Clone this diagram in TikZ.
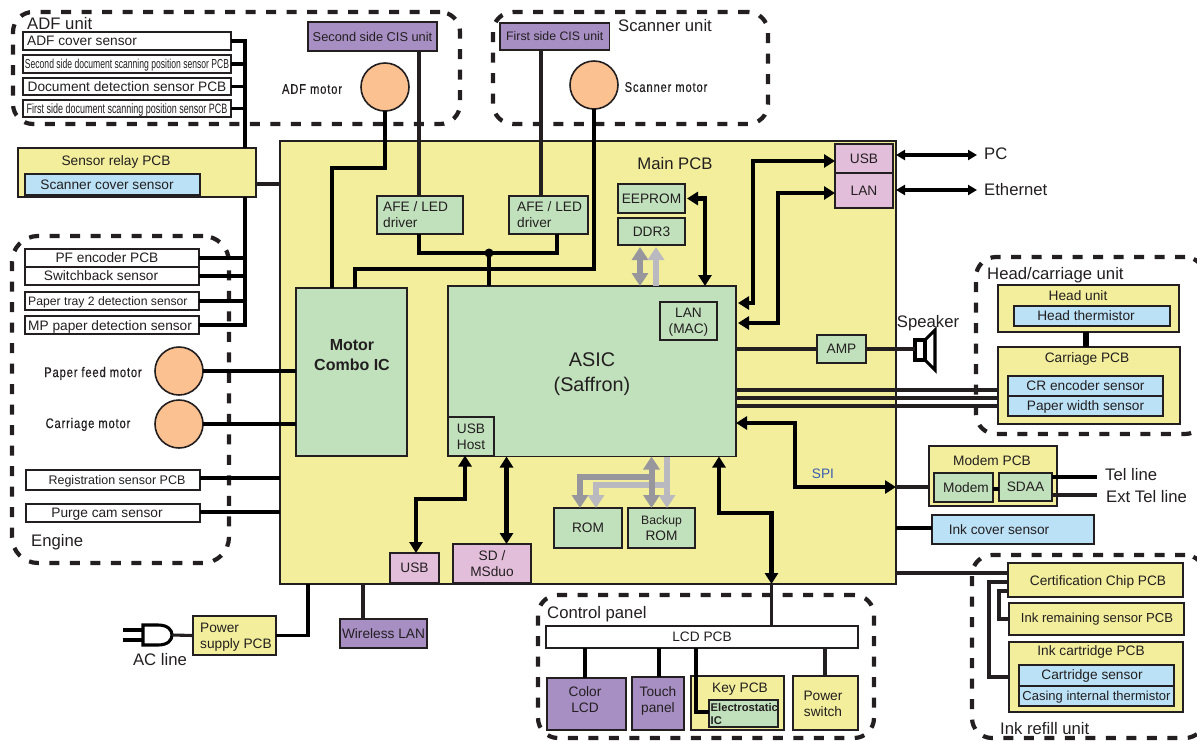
\documentclass[tikz,border=0pt]{standalone}
\usepackage{fontspec}
\setmainfont{Liberation Sans}
\newfontfamily\narrowfont[FakeStretch=0.66]{Liberation Sans}
\newfontfamily\motorfont[FakeStretch=0.8,LetterSpace=6,FakeBold=0.5]{Liberation Sans}
\usetikzlibrary{arrows.meta}
\definecolor{ink}{HTML}{231F20}
\definecolor{pcbyellow}{HTML}{F2EE9B}
\definecolor{icgreen}{HTML}{C1E0BC}
\definecolor{cispurple}{HTML}{A78FC3}
\definecolor{portpink}{HTML}{E3BEDB}
\definecolor{sensorblue}{HTML}{BBE1F6}
\definecolor{motororange}{HTML}{FBC190}
\definecolor{busdark}{HTML}{96969C}
\definecolor{buslight}{HTML}{B9B9BF}
\definecolor{spiblue}{HTML}{3A5DB0}
\tikzset{
  basebox/.style={draw=ink, line width=1.5pt, inner sep=0pt, outer sep=0pt, align=center, text=ink, text depth=0pt},
  wh/.style 2 args={minimum width=#1, minimum height=#2},
  pcb/.style={basebox, fill=pcbyellow},
  ic/.style={basebox, fill=icgreen},
  cis/.style={basebox, fill=cispurple},
  port/.style={basebox, fill=portpink},
  sensor/.style={basebox, fill=sensorblue},
  plainbox/.style={basebox, fill=white},
  motor/.style={circle, draw=ink, line width=1.6pt, fill=motororange, minimum size=48pt, inner sep=0pt, outer sep=0pt},
  unitframe/.style={draw=ink, line width=4.2pt, rounded corners=20pt, dash pattern=on 10pt off 10.5pt, inner sep=0pt, outer sep=0pt},
  txt/.style={inner sep=0pt, text=ink, align=left, text depth=0pt},
  big/.style={txt, font=\fontsize{16.7}{19}\selectfont},
  motortxt/.style={txt, font=\motorfont\fontsize{14}{16}\selectfont},
  heavy/.style={draw=black, line width=3.2pt},
  plainlink/.style={draw=ink, line width=3.1pt},
  bidir/.style={draw=black, line width=4.2pt, <->, >={Triangle[length=11pt,width=13pt]}},
  extlink/.style={draw=black, line width=3.1pt, <->, >={Triangle[length=9pt,width=10pt]}},
  greybus/.style={line width=6pt, >={Triangle[length=13pt,width=16pt]}},
  dot/.style={circle, fill=black, minimum size=9pt, inner sep=0pt, outer sep=0pt}
}
\begin{document}
\begin{tikzpicture}[x=1pt, y=-1pt, font=\fontsize{13.7}{16}\selectfont]
  \useasboundingbox (0,0) rectangle (1197,740);

  % Dashed units
  \node[unitframe, wh={447}{112}] (ADFframe) at (236.5,68) {};
  \node[unitframe, wh={275}{112}] (ScanFrame) at (630.5,68) {};
  \node[unitframe, wh={217}{327}, rounded corners=26pt] (EngineFrame) at (120.5,399.5) {};
  \node[unitframe, wh={336}{143}] (CtrlFrame) at (706,666.5) {};
  \node[unitframe, wh={229}{177}] (HeadFrame) at (1090.5,345.5) {};
  \node[unitframe, wh={233}{183}] (InkFrame) at (1088.5,646.5) {};

  \node[big, anchor=west] (ADFlabel) at (27,23) {ADF unit};
  \node[big] (ScanLabel) at (665,25) {Scanner unit};
  \node[big, anchor=west] (EngineLabel) at (31,540) {Engine};
  \node[big, anchor=west] (CtrlLabel) at (547,612) {Control panel};
  \node[big, anchor=west] (HeadLabel) at (987,273) {Head/carriage unit};
  \node[big, anchor=west] (InkLabel) at (1000,728) {Ink refill unit};

  % Main PCB
  \node[pcb, wh={616}{443}] (MainPCB) at (588,362.5) {};
  \node[big] (MainLabel) at (675,163) {Main PCB};

  % ADF unit
  \node[plainbox, wh={208}{18}] (ADFcover) at (127,41) {};
  \node[txt, anchor=west] (ADFcoverT) at (27,41) {ADF cover sensor};
  \node[plainbox, wh={208}{18}, font=\narrowfont\fontsize{13}{14}\selectfont] (SecondPos) at (127,64) {Second side document scanning position sensor PCB};
  \node[plainbox, wh={208}{17}] (DocDet) at (127,86.5) {Document detection sensor PCB};
  \node[plainbox, wh={208}{17}, font=\narrowfont\fontsize{13.6}{14}\selectfont] (FirstPos) at (127,108.5) {First side document scanning position sensor PCB};
  \node[cis, wh={129}{29}, font=\fontsize{12.8}{15}\selectfont] (SecondCIS) at (372.5,36.5) {Second side CIS unit};
  \node[motor] (ADFmotor) at (385,87) {};
  \node[motortxt] (ADFmotorT) at (312,89) {ADF motor};

  % Scanner unit
  \node[cis, wh={109.5}{27}, font=\fontsize{12.3}{15}\selectfont] (FirstCIS) at (554.75,36.5) {First side CIS unit};
  \node[motor] (ScanMotor) at (594,85) {};
  \node[motortxt] (ScanMotorT) at (666,87) {Scanner motor};

  % Sensor relay
  \node[pcb, wh={238}{49}] (SensorRelay) at (137,172.5) {};
  \node[txt] (SensorRelayT) at (116,161) {Sensor relay PCB};
  \node[sensor, wh={175}{21}] (ScanCover) at (112.5,184.5) {};
  \node[txt] (ScanCoverT) at (107,185) {Scanner cover sensor};

  % Engine
  \node[plainbox, wh={174}{18}] (PFenc) at (112,258) {};
  \node[txt] (PFencT) at (107,258) {PF encoder PCB};
  \node[plainbox, wh={174}{18}] (Switchback) at (112,276) {};
  \node[txt] (SwitchbackT) at (101,276) {Switchback sensor};
  \node[plainbox, wh={174}{18}] (PaperTray) at (112,301) {};
  \node[txt, anchor=west, font=\fontsize{12.2}{14}\selectfont] (PaperTrayT) at (28,301) {Paper tray 2 detection sensor};
  \node[plainbox, wh={174}{18}] (MPpaper) at (112,325) {};
  \node[txt, anchor=west] (MPpaperT) at (28,326) {MP paper detection sensor};
  \node[motor] (PFmotor) at (179,371) {};
  \node[motortxt] (PFmotorT) at (93,372) {Paper feed motor};
  \node[motor] (CRmotor) at (179,424) {};
  \node[motortxt] (CRmotorT) at (88,423) {Carriage motor};
  \node[plainbox, wh={174}{20}] (Registration) at (113,480) {};
  \node[txt, font=\fontsize{12.5}{14}\selectfont] (RegistrationT) at (117,480) {Registration sensor PCB};
  \node[plainbox, wh={174}{18}] (PurgeCam) at (113,513) {};
  \node[txt] (PurgeCamT) at (107,513) {Purge cam sensor};

  % Main PCB parts
  \node[ic, wh={86}{38}] (AFEl) at (420,215) {};
  \node[txt, anchor=west] (AFElT) at (383,215) {AFE / LED\\driver};
  \node[ic, wh={79}{38}] (AFEr) at (548.5,215) {};
  \node[txt, anchor=west] (AFErT) at (517,215) {AFE / LED\\driver};
  \node[ic, wh={111}{168}] (MotorIC) at (351.5,372) {};
  \node[txt, align=center, font=\bfseries\fontsize{16}{20}\selectfont] (MotorICT) at (352,355) {Motor\\Combo IC};
  \node[ic, wh={288}{170.5}] (ASIC) at (592,371.25) {};
  \node[txt, align=center, font=\fontsize{19.8}{25}\selectfont] (ASICT) at (592,372) {ASIC\\(Saffron)};
  \node[ic, wh={57}{38}] (LANmac) at (688.5,321) {LAN\\(MAC)};
  \node[ic, wh={46}{38.5}] (USBhost) at (471,436.25) {USB\\Host};
  \node[ic, wh={67}{29}] (EEPROM) at (651.5,198.5) {EEPROM};
  \node[ic, wh={67}{27}] (DDR) at (651.5,231.5) {DDR3};
  \node[port, wh={58}{29}] (USBport) at (864,158.5) {USB};
  \node[port, wh={58}{35}] (LANport) at (864,190.5) {LAN};
  \node[ic, wh={49}{28}] (AMP) at (841.5,349) {AMP};
  \node[ic, wh={68}{40}] (ROM) at (588,528) {ROM};
  \node[ic, wh={67}{40}] (BackupROM) at (661.5,528) {{\fontsize{12.2}{16}\selectfont Backup}\\ROM};
  \node[port, wh={49}{30}] (USBfront) at (414.5,568) {USB};
  \node[port, wh={78}{39}] (SDcard) at (492,563.5) {SD /\\MSduo};
  \node[txt, text=spiblue] (SPI) at (823,474) {SPI};

  % Below the main PCB
  \node[cis, wh={87}{29}] (WirelessLAN) at (383.5,633.5) {Wireless LAN};
  \node[pcb, wh={83}{39}] (PowerPCB) at (234.5,635.5) {};
  \node[txt, anchor=west] (PowerPCBT) at (200,636) {Power\\supply PCB};
  \node[big] (ACline) at (160,659) {AC line};
  \draw[draw=black, line width=3.1pt] (123,630) -- (143,630) (123,640) -- (143,640);
  \draw[draw=black, line width=3.1pt] (143,625) -- (158,625) .. controls (168,625) and (172,630) .. (172,635) .. controls (172,640) and (168,645) .. (158,645) -- (143,645) -- cycle;
  \coordinate (plugTip) at (172,635);

  % Control panel
  \node[plainbox, wh={312}{22}] (LCDpcb) at (702,637) {LCD PCB};
  \node[cis, wh={79}{52}] (ColorLCD) at (586.5,704) {};
  \node[txt, align=center] (ColorLCDT) at (585,700) {Color\\LCD};
  \node[cis, wh={52}{53}] (TouchPanel) at (658,703.5) {};
  \node[txt, align=center] (TouchPanelT) at (658,700) {Touch\\panel};
  \node[pcb, wh={93}{54}] (KeyPCB) at (737.5,703) {};
  \node[txt] (KeyPCBT) at (740,688) {Key PCB};
  \node[ic, wh={69}{27}] (Electro) at (743.5,713.5) {};
  \node[txt, anchor=west, font=\bfseries\fontsize{11.2}{13}\selectfont] (ElectroT) at (710.5,713.5) {Electrostatic\\IC};
  \node[pcb, wh={65}{54}] (PowerSw) at (825.5,703) {};
  \node[txt, align=center] (PowerSwT) at (823,704) {Power\\switch};

  % Right side
  \node[big, anchor=west] (PClabel) at (984,154) {PC};
  \node[big, anchor=west] (EtherLabel) at (984,189) {Ethernet};
  \node[big] (SpeakerT) at (928,321) {Speaker};
  \draw[draw=black, line width=3.1pt, fill=white] (925,340) -- (935,330) -- (935,370) -- (925,360) -- cycle;
  \draw[draw=black, line width=3.1pt, fill=white] (915,340) rectangle (925,360);
  \coordinate (speakerIn) at (915,349);

  \node[pcb, wh={181}{47}] (HeadUnit) at (1088.5,308.5) {};
  \node[txt] (HeadUnitT) at (1078,296) {Head unit};
  \node[sensor, wh={156}{20}] (HeadTherm) at (1092,316) {};
  \node[txt] (HeadThermT) at (1086,316) {Head thermistor};
  \node[pcb, wh={182}{77}] (CarriagePCB) at (1089,385.5) {};
  \node[txt] (CarriagePCBT) at (1087,358) {Carriage PCB};
  \node[sensor, wh={155}{20}] (CRenc) at (1085.5,386) {CR encoder sensor};
  \node[sensor, wh={155}{20}] (PaperWidth) at (1085.5,406) {Paper width sensor};

  \node[pcb, wh={128}{60}] (ModemPCB) at (993,476) {};
  \node[txt] (ModemPCBT) at (992,461) {Modem PCB};
  \node[ic, wh={59}{29}] (Modem) at (963.5,487.5) {};
  \node[txt] (ModemT) at (966,488) {Modem};
  \node[ic, wh={53}{28}] (SDAA) at (1025.5,487) {SDAA};
  \node[big, anchor=west] (TelLine) at (1105,474) {Tel line};
  \node[big, anchor=west] (ExtTelLine) at (1106,496) {Ext Tel line};
  \node[sensor, wh={162}{29}] (InkCover) at (1013,529.5) {};
  \node[txt] (InkCoverT) at (999,530) {Ink cover sensor};

  \node[pcb, wh={175}{34}] (CertPCB) at (1095.5,580) {};
  \node[txt] (CertPCBT) at (1098,581) {Certification Chip PCB};
  \node[pcb, wh={175}{32}] (InkRemain) at (1096.5,619) {};
  \node[txt, font=\fontsize{13.1}{15}\selectfont] (InkRemainT) at (1097,618) {Ink remaining sensor PCB};
  \node[pcb, wh={174}{70}] (InkCart) at (1096,677) {};
  \node[txt] (InkCartT) at (1091,651) {Ink cartridge PCB};
  \node[sensor, wh={155}{21}] (CartSensor) at (1096.5,675.5) {};
  \node[txt] (CartSensorT) at (1092,675) {Cartridge sensor};
  \node[sensor, wh={155}{20}, font=\fontsize{13}{15}\selectfont] (Casing) at (1096.5,696) {Casing internal thermistor};

  % Sensor bus
  \coordinate (busTop) at (245,41);
  \coordinate (busBottom) at (245,325);
  \foreach \n in {ADFcover,SecondPos,DocDet,FirstPos,PFenc,Switchback,PaperTray,MPpaper}
    \draw[heavy] (\n.east) -- (\n.east -| busTop);
  \draw[heavy] ([yshift=1.6pt]busTop) -- (SensorRelay.north -| busTop);
  \draw[heavy] (SensorRelay.south -| busTop) -- ([yshift=-1.6pt]busBottom);
  \draw[plainlink] (SensorRelay.east |- 0,184) -- (MainPCB.west |- 0,184);

  % Motors and CIS
  \draw[heavy] (ADFmotor.south) |- (332,168) -- (MotorIC.north -| 332,0);
  \draw[plainlink] (SecondCIS.south -| 419,0) -- (AFEl.north -| 419,0);
  \draw[plainlink] (FirstCIS.south -| 541,0) -- (AFEr.north -| 541,0);
  \draw[heavy] (ScanMotor.south) |- (355,269) -- (MotorIC.north -| 355,0);
  \draw[heavy] (PFmotor.east) -- (MotorIC.west |- PFmotor.east);
  \draw[heavy] (CRmotor.east) -- (MotorIC.west |- CRmotor.east);
  \draw[heavy] (Registration.east |- 0,478) -- (MainPCB.west |- 0,478);
  \draw[heavy] (PurgeCam.east |- 0,512) -- (MainPCB.west |- 0,512);

  % AFE outputs
  \node[dot] (afeJoin) at (489,253) {};
  \draw[heavy] (AFEl.south -| 419,0) |- (afeJoin.center);
  \draw[heavy] (AFEr.south -| 557,0) |- (afeJoin.center);
  \draw[heavy] (afeJoin.center) -- (ASIC.north -| afeJoin);

  % Memory buses
  \draw[greybus, <->, busdark] (640,247) -- (ASIC.north -| 640,0);
  \draw[greybus, ->, buslight] (ASIC.north -| 656,0) -- (656,247);
  \draw[greybus, ->, buslight] (ASIC.south -| 667,0) -- (ROM.north -| 667,0);
  \draw[greybus, ->, buslight] (667,485) -- (596,485) -- (ROM.north -| 596,0);
  \draw[greybus, <->, busdark] (ASIC.south -| 651.5,0) -- (ROM.north -| 651.5,0);
  \draw[greybus, ->, busdark] (651.5,477) -- (580,477) -- (ROM.north -| 580,0);

  % Thick links
  \draw[bidir] ([xshift=2pt]EEPROM.east) -| (ASIC.north -| 705,0);
  \draw[bidir] (USBport.west |- 0,161) -| (753,303) -- ([xshift=2pt]ASIC.east |- 0,303);
  \draw[bidir] (LANport.west |- 0,193) -| (778,323) -- ([xshift=2pt]ASIC.east |- 0,323);
  \draw[bidir] (USBhost.south -| 465,0) |- (416,499) -- (USBfront.north -| 416,0);
  \draw[bidir] (ASIC.south -| 506.5,0) -- (SDcard.north -| 506.5,0);
  \draw[bidir] (ASIC.south -| 719,0) |- (771.5,513) -- (MainPCB.south -| 771.5,0);
  \draw[bidir] (ASIC.east |- 0,423) -| (795,487) -- (MainPCB.east |- 0,487);
  \draw[plainlink] (MainPCB.south -| 771.5,0) -- (LCDpcb.north -| 771.5,0);

  % Outputs on the right
  \draw[extlink] (MainPCB.east |- 0,155) -- (977,155);
  \draw[extlink] (MainPCB.east |- 0,190) -- (977,190);
  \draw[plainlink] (ASIC.east |- AMP) -- (AMP.west);
  \draw[plainlink] (AMP.east) -- (speakerIn);
  \foreach \y in {390,398,406}
    \draw[plainlink] (ASIC.east |- 0,\y) -- (CarriagePCB.west |- 0,\y);
  \draw[draw=black, line width=5.5pt] (HeadUnit.south -| 1086,0) -- (CarriagePCB.north -| 1086,0);
  \draw[plainlink] (MainPCB.east |- 0,487) -- (ModemPCB.west |- 0,487);
  \draw[heavy] (Modem.east |- 0,489) -- (SDAA.west |- 0,489);
  \draw[heavy] (SDAA.east |- 0,477) -- (1097,477);
  \draw[plainlink] (SDAA.east |- 0,495) -- (1097,495);
  \draw[heavy] (MainPCB.east |- 0,528) -- (InkCover.west |- 0,528);
  \draw[plainlink] (MainPCB.east |- 0,573) -- (CertPCB.west |- 0,573);
  \draw[plainlink] (CertPCB.west |- 0,582) -| (989,677) -- (InkCart.west |- 0,677);
  \draw[plainlink] (CertPCB.west |- 0,591) -| (999,619) -- (InkRemain.west |- 0,619);

  % Below the main PCB
  \draw[heavy] (PowerPCB.east) -| (MainPCB.south -| 308,0);
  \draw[plainlink] (MainPCB.south -| 363,0) -- (WirelessLAN.north -| 363,0);
  \draw[plainlink] (plugTip) -- (PowerPCB.west);

  % Control panel links
  \draw[heavy] (LCDpcb.south -| 585,0) -- (ColorLCD.north -| 585,0);
  \draw[heavy] (LCDpcb.south -| 659,0) -- (TouchPanel.north -| 659,0);
  \draw[heavy] (LCDpcb.south -| 696,0) |- (Electro.west |- 0,712);
  \draw[plainlink] (LCDpcb.south -| 825,0) -- (PowerSw.north -| 825,0);
\end{tikzpicture}
\end{document}
